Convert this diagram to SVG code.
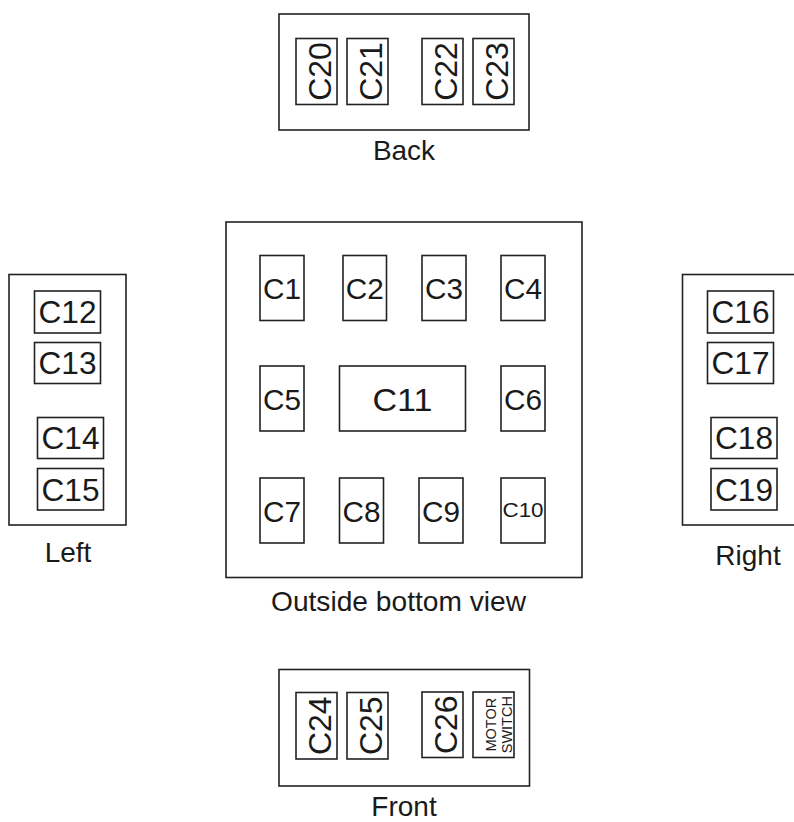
<svg xmlns="http://www.w3.org/2000/svg" width="794" height="822" viewBox="0 0 794 822">
<style>
rect{fill:#fff;stroke:#222;stroke-width:1.6}
text{font-family:"Liberation Sans",Arial,sans-serif;fill:#1a1a1a;text-anchor:middle}
.lbl{font-size:28px}
.m{font-size:29px}
.s{font-size:31px}
.v{font-size:32px}
</style>
<rect width="794" height="822" style="fill:#fff;stroke:none"/>
<g id="back">
<rect x="279" y="14" width="250" height="116"/>
<text class="lbl" x="404" y="160">Back</text>
</g>
<g id="c20"><rect x="296" y="38.5" width="41" height="66"/><text class="v" transform="translate(316.5,71.5) rotate(-90)" y="14.5">C20</text></g>
<g id="c21"><rect x="347" y="38.5" width="41" height="66"/><text class="v" transform="translate(367.5,71.5) rotate(-90)" y="14.5">C21</text></g>
<g id="c22"><rect x="422" y="38.5" width="41" height="66"/><text class="v" transform="translate(442.5,71.5) rotate(-90)" y="14.5">C22</text></g>
<g id="c23"><rect x="473" y="38.5" width="41" height="66"/><text class="v" transform="translate(493.5,71.5) rotate(-90)" y="14.5">C23</text></g>

<g id="left">
<rect x="9" y="274.5" width="117" height="250.5"/>
<text class="lbl" x="68" y="562">Left</text>
</g>
<g id="c12"><rect x="34.5" y="291" width="66" height="42"/><text class="s" x="67.5" y="323" textLength="58" lengthAdjust="spacingAndGlyphs">C12</text></g>
<g id="c13"><rect x="34.5" y="342.5" width="66" height="41"/><text class="s" x="67.5" y="374" textLength="58" lengthAdjust="spacingAndGlyphs">C13</text></g>
<g id="c14"><rect x="37.5" y="417.5" width="66" height="41"/><text class="s" x="70.5" y="449" textLength="58" lengthAdjust="spacingAndGlyphs">C14</text></g>
<g id="c15"><rect x="37.5" y="468.5" width="66" height="41.5"/><text class="s" x="70.5" y="500.5" textLength="58" lengthAdjust="spacingAndGlyphs">C15</text></g>

<g id="right">
<rect x="682.5" y="274.5" width="117" height="250.5"/>
<text class="lbl" x="748" y="565">Right</text>
</g>
<g id="c16"><rect x="707.5" y="291" width="66" height="42"/><text class="s" x="740.5" y="323" textLength="58" lengthAdjust="spacingAndGlyphs">C16</text></g>
<g id="c17"><rect x="707.5" y="342.5" width="66" height="41"/><text class="s" x="740.5" y="374" textLength="58" lengthAdjust="spacingAndGlyphs">C17</text></g>
<g id="c18"><rect x="711" y="417.5" width="66" height="41"/><text class="s" x="744" y="449" textLength="58" lengthAdjust="spacingAndGlyphs">C18</text></g>
<g id="c19"><rect x="711" y="468.5" width="66" height="41.5"/><text class="s" x="744" y="500.5" textLength="58" lengthAdjust="spacingAndGlyphs">C19</text></g>

<g id="bottom">
<rect x="226" y="222" width="356" height="355.5"/>
<text class="lbl" x="398.5" y="610.5" textLength="255" lengthAdjust="spacingAndGlyphs">Outside bottom view</text>
</g>
<g id="c1"><rect x="260" y="255.5" width="44" height="65"/><text class="m" x="282" y="299" textLength="38" lengthAdjust="spacingAndGlyphs">C1</text></g>
<g id="c2"><rect x="343" y="255.5" width="43.5" height="65"/><text class="m" x="364.8" y="299" textLength="38" lengthAdjust="spacingAndGlyphs">C2</text></g>
<g id="c3"><rect x="422" y="255.5" width="44" height="65"/><text class="m" x="444" y="299" textLength="38" lengthAdjust="spacingAndGlyphs">C3</text></g>
<g id="c4"><rect x="501" y="255.5" width="44" height="65"/><text class="m" x="523" y="299" textLength="38" lengthAdjust="spacingAndGlyphs">C4</text></g>
<g id="c5"><rect x="260" y="366" width="44" height="65"/><text class="m" x="282" y="409.5" textLength="38" lengthAdjust="spacingAndGlyphs">C5</text></g>
<g id="c11"><rect x="339.5" y="366" width="126" height="65"/><text x="402.5" y="410.5" style="font-size:31px" textLength="60" lengthAdjust="spacingAndGlyphs">C11</text></g>
<g id="c6"><rect x="501" y="366" width="44" height="65"/><text class="m" x="523" y="409.5" textLength="38" lengthAdjust="spacingAndGlyphs">C6</text></g>
<g id="c7"><rect x="260" y="478" width="44" height="65"/><text class="m" x="282" y="521.5" textLength="38" lengthAdjust="spacingAndGlyphs">C7</text></g>
<g id="c8"><rect x="339.5" y="478" width="44" height="65"/><text class="m" x="361.5" y="521.5" textLength="38" lengthAdjust="spacingAndGlyphs">C8</text></g>
<g id="c9"><rect x="419" y="478" width="44" height="65"/><text class="m" x="441" y="521.5" textLength="38" lengthAdjust="spacingAndGlyphs">C9</text></g>
<g id="c10"><rect x="501" y="478" width="44" height="65"/><text x="523" y="517" style="font-size:20px" textLength="41" lengthAdjust="spacingAndGlyphs">C10</text></g>

<g id="front">
<rect x="279" y="669.5" width="250.5" height="116.5"/>
<text class="lbl" x="404" y="816">Front</text>
</g>
<g id="c24"><rect x="296" y="692.5" width="41" height="66.5"/><text class="v" transform="translate(316.5,725.7) rotate(-90)" y="14.5">C24</text></g>
<g id="c25"><rect x="347" y="692.5" width="41" height="66.5"/><text class="v" transform="translate(367.5,725.7) rotate(-90)" y="14.5">C25</text></g>
<g id="c26"><rect x="422" y="692" width="41" height="65.5"/><text class="v" transform="translate(442.5,724.7) rotate(-90)" y="14.5">C26</text></g>
<g id="motor-switch"><rect x="473" y="692" width="41" height="65.5"/>
<text transform="translate(493.5,724.7) rotate(-90)" style="font-size:14.5px"><tspan x="0" y="2">MOTOR</tspan><tspan x="0" y="18.5">SWITCH</tspan></text></g>
</svg>
